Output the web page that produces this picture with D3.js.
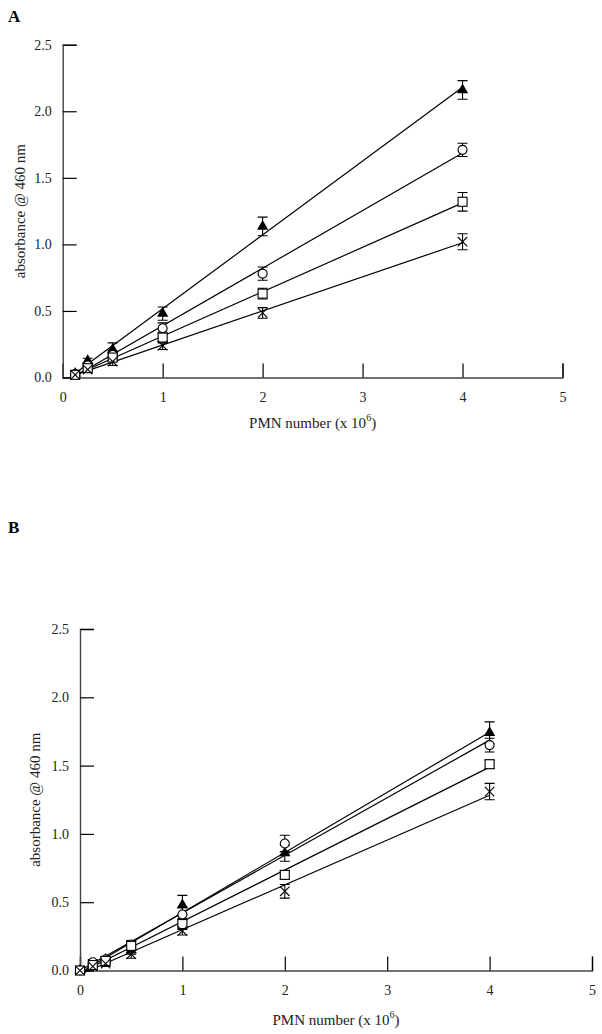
<!DOCTYPE html>
<html><head><meta charset="utf-8">
<script src="https://cdn.jsdelivr.net/npm/d3@7"></script>
<style>
body{margin:0;background:#fff;}
svg{display:block;font-family:"Liberation Serif","Times New Roman",serif;}
</style></head>
<body>
<svg id="c" width="602" height="1034"></svg>
<script>
// ---- data ----
const xTicks = [0, 1, 2, 3, 4, 5];
const yTicks = [0.0, 0.5, 1.0, 1.5, 2.0, 2.5];
const yTickLabels = ["0.0", "0.5", "1.0", "1.5", "2.0", "2.5"];
const seriesNames = ["triangle", "circle", "square", "cross"];

const xA = [0.125, 0.25, 0.5, 1, 2, 4];
const triA = [0.03, 0.125, 0.21, 0.48, 1.135, 2.16];
const triAErr = [0.01, 0.02, 0.05, 0.05, 0.07, 0.07];
const circA = [0.025, 0.09, 0.17, 0.37, 0.78, 1.71];
const circAErr = [0.01, 0.02, 0.03, 0.04, 0.05, 0.05];
const sqA = [0.02, 0.07, 0.15, 0.30, 0.63, 1.32];
const sqAErr = [0.01, 0.02, 0.03, 0.04, 0.04, 0.07];
const crossA = [0.02, 0.06, 0.12, 0.24, 0.485, 1.02];
const crossAErr = [0.01, 0.02, 0.03, 0.03, 0.04, 0.06];

const xB = [0, 0.125, 0.25, 0.5, 1, 2, 4];
const triB = [0, 0.04, 0.08, 0.15, 0.48, 0.86, 1.74];
const triBErr = [0, 0.01, 0.02, 0.03, 0.07, 0.06, 0.08];
const circB = [0, 0.06, 0.08, 0.19, 0.41, 0.93, 1.65];
const circBErr = [0, 0.02, 0.02, 0.03, 0.05, 0.06, 0.05];
const sqB = [0, 0.04, 0.07, 0.18, 0.34, 0.70, 1.51];
const sqBErr = [0, 0.01, 0.02, 0.03, 0.04, 0.03, 0.03];
const crossB = [0, 0.03, 0.05, 0.12, 0.29, 0.58, 1.31];
const crossBErr = [0, 0.01, 0.02, 0.03, 0.03, 0.05, 0.06];

const svg = d3.select("#c");

function fit(xs, ys){
  const n = xs.length, mx = d3.mean(xs), my = d3.mean(ys);
  let sxy = 0, sxx = 0;
  for (let i = 0; i < n; i++){ sxy += (xs[i]-mx)*(ys[i]-my); sxx += (xs[i]-mx)*(xs[i]-mx); }
  const b = sxy/sxx; return {b, a: my - b*mx};
}

function panel(cfg){
  const g = svg.append("g");
  const x = d3.scaleLinear().domain([0,5]).range([cfg.x0, cfg.x1]);
  const y = d3.scaleLinear().domain([0,2.5]).range([cfg.y0, cfg.y1]);

  // panel letter
  g.append("text").attr("x", 8).attr("y", cfg.letterY).attr("font-weight","bold")
    .attr("font-size", 17).text(cfg.letter);

  // axes
  const ax = g.append("g").attr("transform", `translate(0,${cfg.y0})`)
    .call(d3.axisBottom(x).tickValues(xTicks).tickSize(-14).tickPadding(8).tickFormat(d3.format("d")));
  const ay = g.append("g").attr("transform", `translate(${cfg.x0},0)`)
    .call(d3.axisLeft(y).tickValues(yTicks).tickSize(-14).tickPadding(11).tickFormat((d,i)=>yTickLabels[i]));
  [ax, ay].forEach(a => {
    a.select(".domain").attr("stroke", "#444").attr("stroke-width", 1.4);
    a.selectAll(".tick line").attr("stroke", "#000").attr("stroke-width", 1.2);
    a.selectAll("text").attr("font-family", "Liberation Serif").attr("font-size", 14).attr("fill", "#222");
  });
  ax.selectAll("text").attr("dy", "1.15em");

  // axis titles
  const xt = g.append("text").attr("x", (cfg.x0+cfg.x1)/2).attr("y", cfg.xTitleY)
    .attr("text-anchor","middle").attr("font-size", 15).attr("fill","#222");
  xt.append("tspan").text("PMN number (x 10");
  xt.append("tspan").attr("dy", -7).attr("font-size", 10).text("6");
  xt.append("tspan").attr("dy", 7).text(")");
  g.append("text").attr("transform", `translate(${cfg.yTitleX},${(cfg.y0+cfg.y1)/2}) rotate(-90)`)
    .attr("text-anchor","middle").attr("font-size", 15).attr("fill","#222")
    .text("absorbance @ 460 nm");

  // series
  cfg.series.forEach(s => {
    const f = fit(cfg.xs, s.v);
    const xmin = d3.min(cfg.xs), xmax = d3.max(cfg.xs);
    g.append("line")
      .attr("x1", x(xmin)).attr("y1", y(f.a + f.b*xmin))
      .attr("x2", x(xmax)).attr("y2", y(f.a + f.b*xmax))
      .attr("stroke", "#000").attr("stroke-width", 1.2);
  });
  cfg.series.forEach(s => {
    cfg.xs.forEach((xv, i) => {
      const e = s.e[i];
      if (e <= 0) return;
      const cx = x(xv), t = y(s.v[i]+e), b = y(s.v[i]-e);
      g.append("path").attr("d", `M${cx},${t}V${b}M${cx-5},${t}H${cx+5}M${cx-5},${b}H${cx+5}`)
        .attr("stroke","#000").attr("stroke-width",1.1).attr("fill","none");
    });
  });
  cfg.series.forEach(s => {
    cfg.xs.forEach((xv, i) => {
      const cx = x(xv), cy = y(s.v[i]);
      const m = g.append("g").attr("transform", `translate(${cx},${cy})`);
      if (s.name === "triangle") {
        m.append("path").attr("d", d3.symbol(d3.symbolTriangle, 55)()).attr("fill","#000");
      } else if (s.name === "circle") {
        m.append("circle").attr("r", 4.5).attr("fill","#fff").attr("stroke","#000").attr("stroke-width",1.1);
      } else if (s.name === "square") {
        m.append("rect").attr("x",-4.5).attr("y",-4.5).attr("width",9).attr("height",9)
          .attr("fill","#fff").attr("stroke","#000").attr("stroke-width",1.1);
      } else {
        m.append("path").attr("d", d3.symbol(d3.symbolX, 60)()).attr("fill","none")
          .attr("stroke","#000").attr("stroke-width",1.1);
      }
    });
  });
}

panel({letter:"A", letterY:22, x0:62.7, x1:562.5, y0:377.5, y1:44.7, xTitleY:428, yTitleX:25,
  xs:xA, series:[
    {name:seriesNames[0], v:triA, e:triAErr},
    {name:seriesNames[1], v:circA, e:circAErr},
    {name:seriesNames[2], v:sqA, e:sqAErr},
    {name:seriesNames[3], v:crossA, e:crossAErr}]});

panel({letter:"B", letterY:533, x0:80, x1:592, y0:970.5, y1:629, xTitleY:1025, yTitleX:40,
  xs:xB, series:[
    {name:seriesNames[0], v:triB, e:triBErr},
    {name:seriesNames[1], v:circB, e:circBErr},
    {name:seriesNames[2], v:sqB, e:sqBErr},
    {name:seriesNames[3], v:crossB, e:crossBErr}]});
</script>
</body></html>
